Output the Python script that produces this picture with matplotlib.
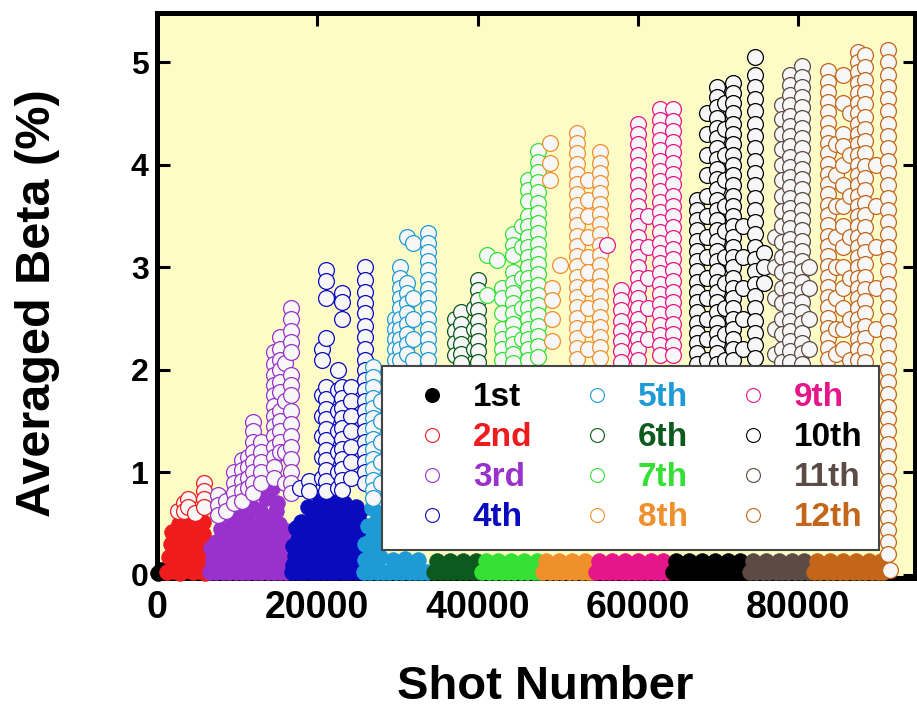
import matplotlib
matplotlib.use("Agg")
import matplotlib.pyplot as plt
from matplotlib.lines import Line2D

plt.rcParams['font.family'] = ['Liberation Sans', 'DejaVu Sans']
plt.rcParams['font.weight'] = 'bold'

labels = ["1st", "2nd", "3rd", "4th", "5th", "6th",
          "7th", "8th", "9th", "10th", "11th", "12th"]
colors = ["#000000", "#EE1C1C", "#9932CC", "#0A0ABE", "#1E9BD7", "#0C5A1E",
          "#35E035", "#F0902C", "#E6168A", "#000000", "#5C4A44", "#C4661A"]

# dense low-beta shots, (shot number, beta %)
lo1 = [(150, 0.02), (500, 0.05), (900, 0.03)]
lo2 = [(1300, 0.03), (2100, 0.04), (2900, 0.02), (3700, 0.05), (4500, 0.03), (5300, 0.04), (6000, 0.02),
       (2300, 0.12), (3100, 0.1), (3900, 0.12), (4700, 0.1), (5500, 0.12),
       (1500, 0.17), (2300, 0.28), (3100, 0.2), (3900, 0.33), (4700, 0.22), (5500, 0.3), (6100, 0.18),
       (1700, 0.3), (2500, 0.38), (3300, 0.32), (4100, 0.42), (4900, 0.36), (5700, 0.4),
       (1900, 0.42), (2700, 0.5), (3500, 0.44), (4300, 0.55), (5100, 0.46), (5800, 0.52),
       (3000, 0.58), (5000, 0.6)]
lo3 = [(6600, 0.03), (7400, 0.03), (8200, 0.03), (9000, 0.03), (9800, 0.03), (10600, 0.03), (11400, 0.03),
       (12200, 0.03), (13000, 0.03), (13800, 0.03), (14600, 0.03), (15400, 0.03), (16100, 0.03),
       (7000, 0.1), (7600, 0.11), (8200, 0.1), (8800, 0.11), (9400, 0.1), (10000, 0.11), (10600, 0.1),
       (11200, 0.11), (11800, 0.1), (12400, 0.11), (13000, 0.1), (13600, 0.11), (14200, 0.1),
       (14800, 0.11), (15400, 0.1), (16000, 0.11),
       (7000, 0.16), (7800, 0.2), (8600, 0.18), (9400, 0.2), (10200, 0.17), (11000, 0.2), (11800, 0.18),
       (12600, 0.2), (13400, 0.17), (14200, 0.2), (15000, 0.18), (15800, 0.2),
       (6800, 0.26), (7600, 0.27), (8400, 0.25), (9200, 0.28), (10000, 0.26), (10800, 0.27),
       (11600, 0.25), (12400, 0.28), (13200, 0.26), (14000, 0.27), (14800, 0.25), (15600, 0.28),
       (7400, 0.32), (8600, 0.36), (9800, 0.34), (11000, 0.37), (12200, 0.35), (13400, 0.38), (14600, 0.36),
       (15600, 0.34), (8800, 0.44), (10400, 0.45), (12000, 0.46), (13200, 0.44), (14400, 0.47), (15800, 0.44),
       (8000, 0.45), (9600, 0.5), (11200, 0.52), (12800, 0.5), (14000, 0.55), (15200, 0.5),
       (9000, 0.58), (11200, 0.58), (12800, 0.62), (14800, 0.62),
       (10400, 0.62), (12000, 0.65), (13600, 0.75), (14400, 0.85), (15000, 0.7)]
lo4 = [(16800, 0.03), (17600, 0.03), (18400, 0.03), (19200, 0.03), (20000, 0.03), (20800, 0.03),
       (21600, 0.03), (22400, 0.03), (23200, 0.03), (24000, 0.03), (24800, 0.03), (25500, 0.03),
       (17000, 0.1), (17600, 0.11), (18200, 0.1), (18800, 0.11), (19400, 0.1), (20000, 0.11),
       (20600, 0.1), (21200, 0.11), (21800, 0.1), (22400, 0.11), (23000, 0.1), (23600, 0.11),
       (24200, 0.1), (24800, 0.11), (25400, 0.1),
       (17200, 0.18), (18000, 0.22), (18800, 0.2), (19600, 0.18), (20400, 0.22), (21200, 0.2),
       (22000, 0.18), (22800, 0.22), (23600, 0.2), (24400, 0.18), (25200, 0.2),
       (17000, 0.28), (17800, 0.29), (18600, 0.27), (19400, 0.3), (20200, 0.28), (21000, 0.29),
       (21800, 0.27), (22600, 0.3), (23400, 0.28), (24200, 0.29), (25000, 0.27),
       (17600, 0.36), (18800, 0.4), (20000, 0.38), (21200, 0.4), (22400, 0.37), (23600, 0.4), (24800, 0.36),
       (17400, 0.46), (18600, 0.47), (19800, 0.45), (21000, 0.48), (22200, 0.46), (23200, 0.47),
       (24400, 0.45), (25400, 0.44),
       (18000, 0.52), (19400, 0.56), (20600, 0.55), (21800, 0.58), (23000, 0.55), (24200, 0.54), (25400, 0.5),
       (19600, 0.63), (21200, 0.64), (22800, 0.62), (24000, 0.63), (25200, 0.6),
       (18800, 0.66), (20400, 0.72), (22000, 0.74), (23400, 0.7), (24800, 0.66)]
lo5 = [(25800, 0.03), (26600, 0.03), (27400, 0.03), (28200, 0.03), (29000, 0.03), (29800, 0.03),
       (30600, 0.03), (31400, 0.03), (32200, 0.03), (33000, 0.03), (33700, 0.03),
       (26200, 0.16), (27000, 0.14), (27800, 0.17), (29400, 0.15), (31000, 0.16), (32600, 0.15),
       (26000, 0.15), (26600, 0.25), (27200, 0.4), (27600, 0.45),
       (25900, 0.3), (26800, 0.35), (27700, 0.3), (26300, 0.48), (27300, 0.52), (26800, 0.65), (27900, 0.6)]
lo6 = [(34600, 0.03), (35400, 0.03), (36200, 0.03), (37000, 0.03), (37800, 0.03), (38600, 0.03),
       (39400, 0.03), (40100, 0.03), (35000, 0.14), (36600, 0.14), (38200, 0.14), (39800, 0.14)]
lo7 = [(40600, 0.03), (41400, 0.03), (42200, 0.03), (43000, 0.03), (43800, 0.03), (44600, 0.03),
       (45400, 0.03), (46200, 0.03), (47000, 0.03), (47700, 0.03),
       (41000, 0.14), (42600, 0.14), (44200, 0.14), (45800, 0.14), (47400, 0.14)]
lo8 = [(48200, 0.03), (49000, 0.03), (49800, 0.03), (50600, 0.03), (51400, 0.03), (52200, 0.03),
       (53000, 0.03), (53800, 0.03), (54300, 0.03),
       (48600, 0.14), (50200, 0.14), (51800, 0.14), (53400, 0.14)]
lo9 = [(54800, 0.03), (55600, 0.03), (56400, 0.03), (57200, 0.03), (58000, 0.03), (58800, 0.03),
       (59600, 0.03), (60400, 0.03), (61200, 0.03), (62000, 0.03), (62800, 0.03), (63600, 0.03),
       (55200, 0.14), (56800, 0.14), (58400, 0.14), (60000, 0.14), (61600, 0.14), (63200, 0.14)]
lo10 = [(64400, 0.03), (65200, 0.03), (66000, 0.03), (66800, 0.03), (67600, 0.03), (68400, 0.03),
        (69200, 0.03), (70000, 0.03), (70800, 0.03), (71600, 0.03), (72400, 0.03), (73200, 0.03),
        (64800, 0.14), (66400, 0.14), (68000, 0.14), (69600, 0.14), (71200, 0.14), (72800, 0.14)]
lo11 = [(74000, 0.03), (74800, 0.03), (75600, 0.03), (76400, 0.03), (77200, 0.03), (78000, 0.03),
        (78800, 0.03), (79600, 0.03), (80400, 0.03), (81200, 0.03),
        (74400, 0.14), (76000, 0.14), (77600, 0.14), (79200, 0.14), (80800, 0.14)]
lo12 = [(82000, 0.03), (82800, 0.03), (83600, 0.03), (84400, 0.03), (85200, 0.03), (86000, 0.03),
        (86800, 0.03), (87600, 0.03), (88400, 0.03), (89200, 0.03), (90000, 0.03), (90600, 0.03),
        (82400, 0.14), (84000, 0.14), (85600, 0.14), (87200, 0.14), (88800, 0.14), (90400, 0.14)]

# higher-beta shots, (shot number, [beta %, ...])
hi1 = []
hi2 = [(2600, [0.62]), (3400, [0.7, 0.62]), (3900, [0.74, 0.66]), (4700, [0.6]),
       (5900, [0.9, 0.82, 0.74, 0.66])]
hi3 = [(7600, [0.78, 0.68, 0.58]),
       (8600, [0.72, 0.62]),
       (9600, [1.0, 0.9, 0.8, 0.7]),
       (10600, [1.12, 1.02, 0.92, 0.82, 0.72]),
       (11400, [1.15, 1.05, 0.95, 0.85]),
       (12000, [1.49, 1.4, 1.3, 1.2, 1.1, 1.0, 0.9, 0.8]),
       (13000, [1.3, 1.2, 1.1, 1.0, 0.9]),
       (14600, [2.17, 2.06, 1.95, 1.85, 1.75, 1.65, 1.55, 1.45, 1.35, 1.25, 1.15, 1.05, 0.95]),
       (15300, [2.32, 2.2, 2.1, 2.0, 1.88, 1.78, 1.6, 1.5, 1.4, 1.3, 1.2]),
       (16000, [2.07, 1.7, 1.2, 0.9]),
       (16700, [2.6, 2.5, 2.38, 2.27, 2.17, 1.95, 1.85, 1.75, 1.6, 1.47, 1.35, 1.25, 1.13, 1.0, 0.9, 0.8])]
hi4 = [(17800, [0.85]),
       (19000, [0.92, 0.82]),
       (20600, [2.2, 2.1, 1.75, 1.55, 1.35, 1.15, 0.95]),
       (21100, [2.97, 2.87, 2.7, 2.31, 1.83, 1.72, 1.62, 1.52, 1.42, 1.32, 1.22, 1.12, 1.02, 0.92, 0.82]),
       (22600, [2.0, 1.8, 1.6, 1.4, 1.2, 1.0, 0.85]),
       (23100, [2.75, 2.66, 2.5, 1.83, 1.73, 1.63, 1.53, 1.43, 1.33, 1.23, 1.13, 1.03, 0.93, 0.83]),
       (24200, [1.83, 1.7, 1.55, 1.4, 1.25, 1.1, 0.95]),
       (26000, [3.0, 2.88, 2.76, 2.65, 2.55, 2.43, 2.32, 2.2, 2.1, 2.0, 1.9, 1.8, 1.7, 1.6, 1.5,
                1.4, 1.3, 1.2, 1.1, 1.0, 0.9])]
hi5 = [(26900, [2.03, 1.93, 1.83, 1.73, 1.63, 1.53, 1.43, 1.33, 1.23, 1.13, 1.03, 0.93, 0.83, 0.75]),
       (27900, [1.7, 1.5, 1.3, 1.1, 0.9]),
       (29700, [2.5, 2.4, 2.3, 2.2, 2.1]),
       (30300, [3.0, 2.9, 2.8, 2.7, 2.6, 2.5, 2.4, 2.3, 2.2, 2.1]),
       (31200, [3.3, 2.85, 2.75, 2.65, 2.55, 2.45, 2.35, 2.25, 2.15]),
       (31900, [3.24, 2.7, 2.5, 2.3, 2.1]),
       (33800, [3.33, 3.24, 3.15, 3.06, 2.97, 2.88, 2.79, 2.7, 2.6, 2.5, 2.4, 2.3, 2.2, 2.1])]
hi6 = [(37200, [2.5, 2.38, 2.26, 2.14]),
       (37900, [2.56, 2.45, 2.35, 2.25, 2.15, 2.07]),
       (39600, [2.6, 2.4, 2.2]),
       (40000, [2.88, 2.78, 2.68, 2.58, 2.48, 2.38, 2.28, 2.18, 2.08])]
hi7 = [(41200, [3.12, 2.73]),
       (42400, [3.07]),
       (43000, [2.8, 2.7, 2.55, 2.4, 2.3, 2.2, 2.1]),
       (44400, [3.32, 3.22, 3.12, 2.95, 2.85, 2.75, 2.65, 2.55, 2.45, 2.35, 2.25, 2.15, 2.07]),
       (45600, [3.4, 3.2, 2.9, 2.6, 2.3]),
       (46300, [3.85, 3.75, 3.65, 3.5, 3.4, 3.3, 3.2, 3.1, 3.0, 2.9, 2.8, 2.7, 2.6, 2.5, 2.4,
                2.3, 2.2, 2.1]),
       (47500, [4.13, 4.03, 3.93, 3.83, 3.73, 3.63, 3.53, 3.43, 3.33, 3.23, 3.13, 3.03, 2.93,
                2.83, 2.73, 2.63, 2.53, 2.43, 2.33, 2.23, 2.13])]
hi8 = [(49000, [4.21, 4.02, 3.85]),
       (49300, [2.8, 2.68, 2.5, 2.28]),
       (50300, [3.02]),
       (52400, [4.31, 4.21, 4.11, 4.01, 3.91, 3.81, 3.71, 3.61, 3.51, 3.41, 3.31, 3.21, 3.11,
                3.01, 2.91, 2.81, 2.71, 2.61, 2.51, 2.41, 2.31, 2.21, 2.11]),
       (53800, [3.85, 3.66, 3.5, 3.3, 3.1, 2.95, 2.8, 2.6, 2.4, 2.2]),
       (55300, [4.12, 4.02, 3.92, 3.82, 3.72, 3.62, 3.52, 3.42, 3.32, 3.22, 3.12, 3.02, 2.92,
                2.82, 2.72, 2.62, 2.52, 2.42, 2.32, 2.22, 2.12])]
hi9 = [(56100, [3.22]),
       (57900, [2.78, 2.68, 2.58, 2.48, 2.38, 2.28, 2.18, 2.08]),
       (60000, [4.4, 4.3, 4.2, 4.1, 4.0, 3.9, 3.8, 3.7, 3.6, 3.5, 3.4, 3.3, 3.2, 3.1, 3.0,
                2.9, 2.8, 2.7, 2.6, 2.5, 2.4, 2.3, 2.2, 2.1]),
       (61300, [3.5, 3.2, 2.9, 2.6, 2.3]),
       (62800, [4.54, 4.44, 4.34, 4.24, 4.14, 4.04, 3.94, 3.84, 3.74, 3.64, 3.54, 3.44, 3.34,
                3.24, 3.14, 3.04, 2.94, 2.84, 2.74, 2.64, 2.54, 2.44, 2.34, 2.24, 2.14]),
       (64400, [4.54, 4.43, 4.33, 4.22, 4.12, 4.02, 3.91, 3.81, 3.7, 3.6, 3.5, 3.39, 3.29,
                3.18, 3.08, 2.97, 2.87, 2.76, 2.66, 2.56, 2.45, 2.35, 2.24, 2.14])]
hi10 = [(67400, [3.66, 3.56, 3.46, 3.36, 3.26, 3.16, 3.06, 2.96, 2.86, 2.76, 2.66, 2.56, 2.46,
                 2.36, 2.26, 2.16, 2.06]),
        (68600, [4.5, 4.3, 4.1, 3.9, 3.7, 3.5, 3.3, 3.1, 2.9, 2.7, 2.5, 2.3, 2.1]),
        (69900, [4.76, 4.66, 4.56, 4.46, 4.36, 4.26, 4.16, 4.06, 3.96, 3.86, 3.76, 3.66, 3.56,
                 3.46, 3.36, 3.26, 3.16, 3.06, 2.96, 2.86, 2.76, 2.66, 2.56, 2.46, 2.36, 2.26,
                 2.16, 2.06]),
        (70900, [4.6, 4.35, 4.1, 3.85, 3.6, 3.35, 3.1, 2.85, 2.6, 2.35, 2.1]),
        (71900, [4.8, 4.7, 4.6, 4.5, 4.4, 4.3, 4.2, 4.1, 4.0, 3.9, 3.8, 3.7, 3.6, 3.5, 3.4,
                 3.3, 3.2, 3.1, 3.0, 2.9, 2.8, 2.7, 2.6, 2.5, 2.4, 2.3, 2.2, 2.1]),
        (73100, [3.4, 3.1, 2.8, 2.5, 2.2]),
        (74600, [5.05, 4.88, 4.76, 4.64, 4.52, 4.4, 4.28, 4.16, 4.04, 3.92, 3.8, 3.68, 3.56,
                 3.44, 3.32, 3.2, 3.08, 2.96, 2.84, 2.72, 2.6, 2.48, 2.36, 2.24, 2.12]),
        (75800, [3.14, 3.0, 2.85])]
hi11 = [(77100, [3.3, 3.0, 2.7, 2.4, 2.15]),
        (78000, [4.58, 4.45, 4.3, 4.15, 4.0, 3.85, 3.7, 3.55, 3.4, 3.25, 3.1, 2.95, 2.8, 2.65,
                 2.5, 2.35, 2.2, 2.08]),
        (79000, [4.88, 4.78, 4.68, 4.58, 4.48, 4.38, 4.28, 4.18, 4.08, 3.98, 3.88, 3.78, 3.68,
                 3.58, 3.48, 3.38, 3.28, 3.18, 3.08, 2.98, 2.88, 2.78, 2.68, 2.58, 2.48, 2.38,
                 2.28, 2.18, 2.08]),
        (80500, [4.96, 4.86, 4.76, 4.66, 4.56, 4.46, 4.36, 4.26, 4.16, 4.06, 3.96, 3.86, 3.76,
                 3.66, 3.56, 3.46, 3.36, 3.26, 3.16, 3.06, 2.96, 2.86, 2.76, 2.66, 2.56, 2.46,
                 2.36, 2.26, 2.16, 2.06]),
        (81400, [3.0, 2.8, 2.5, 2.2])]
hi12 = [(83700, [4.91, 4.81, 4.71, 4.61, 4.51, 4.41, 4.31, 4.21, 4.11, 4.01, 3.91, 3.81, 3.71,
                 3.61, 3.51, 3.41, 3.31, 3.21, 3.11, 3.01, 2.91, 2.81, 2.71, 2.61, 2.51, 2.41,
                 2.31, 2.21, 2.11]),
        (84700, [4.2, 3.9, 3.6, 3.3, 3.0, 2.7, 2.4, 2.15]),
        (85600, [4.88, 4.6, 4.3, 4.18, 4.0, 3.8, 3.6, 3.4, 3.2, 3.0, 2.8, 2.6, 2.4, 2.2]),
        (86500, [4.5, 4.1, 3.7, 3.3, 2.9, 2.5, 2.1]),
        (87500, [5.1, 5.0, 4.9, 4.8, 4.7, 4.6, 4.5, 4.4, 4.3, 4.2, 4.1, 4.0, 3.9, 3.8, 3.7,
                 3.6, 3.5, 3.4, 3.3, 3.2, 3.1, 3.0, 2.9, 2.8, 2.7, 2.6, 2.5, 2.4, 2.3, 2.2, 2.1]),
        (88400, [5.07, 4.95, 4.83, 4.71, 4.59, 4.47, 4.35, 4.23, 4.11, 3.99, 3.87, 3.75, 3.63,
                 3.51, 3.39, 3.27, 3.15, 3.03, 2.91, 2.79, 2.67, 2.55, 2.43, 2.31, 2.19, 2.08]),
        (89700, [4.0, 3.6, 3.2, 2.8, 2.4]),
        (91200, [5.12, 5.0, 4.88, 4.76, 4.64, 4.52, 4.4, 4.28, 4.16, 4.04, 3.92, 3.8, 3.68,
                 3.56, 3.44, 3.32, 3.2, 3.08, 2.96, 2.84, 2.72, 2.6, 2.48, 2.36, 2.24, 2.12,
                 2.0, 1.88, 1.76, 1.64, 1.52, 1.4, 1.28, 1.16, 1.04, 0.92, 0.8, 0.68, 0.56,
                 0.44, 0.32, 0.2]),
        (91500, [0.05])]

lows = [lo1, lo2, lo3, lo4, lo5, lo6, lo7, lo8, lo9, lo10, lo11, lo12]
highs = [hi1, hi2, hi3, hi4, hi5, hi6, hi7, hi8, hi9, hi10, hi11, hi12]

fig = plt.figure(figsize=(9.17, 7.08), dpi=100)
ax = fig.add_axes([157 / 917, 130 / 708, 758 / 917, 565 / 708])
ax.set_facecolor('#FDFBC6')

for k in range(12):
    col = colors[k]
    lx = [p[0] for p in lows[k]]
    ly = [p[1] for p in lows[k]]
    ax.scatter(lx, ly, s=130, c=col, edgecolors=col, linewidths=0.4,
               zorder=3, clip_on=False)
    hx, hy = [], []
    for x, ys in highs[k]:
        hx += [x] * len(ys)
        hy += ys
    if hx:
        ax.scatter(hx, hy, s=130, facecolors='#F7F7F7', edgecolors=col,
                   linewidths=0.9, zorder=3)

ax.set_xlim(0, 94600)
ax.set_ylim(-0.03, 5.48)
ax.set_xticks([0, 20000, 40000, 60000, 80000])
ax.set_yticks([0, 1, 2, 3, 4, 5])
ax.tick_params(direction='in', length=9, width=2.2, top=True, right=True)
ax.tick_params(axis='x', labelsize=27, pad=9)
ax.tick_params(axis='y', labelsize=23, pad=6)
for sp in ax.spines.values():
    sp.set_linewidth(3.6)

fig.text(545 / 917, 9 / 708, 'Shot Number', fontsize=34, fontweight='bold',
         ha='center', va='baseline')
fig.text(38 / 917, 1 - 303 / 708, 'Averaged Beta (%)', fontsize=35, fontweight='bold',
         rotation=90, ha='center', va='center')

handles = []
for k in range(12):
    handles.append(Line2D([], [], marker='o', ls='none', ms=10,
                          mfc=('black' if k == 0 else 'white'),
                          mec=colors[k], mew=0.8))
leg = ax.legend(handles, labels, ncol=3, loc='lower left',
                bbox_to_anchor=(0.297, 0.0496), borderaxespad=0,
                prop={'size': 24, 'weight': 'bold'}, handlelength=2.0,
                handletextpad=0.22, columnspacing=0.95, labelspacing=0.27,
                borderpad=0.5, fancybox=False, framealpha=1, edgecolor='#444444')
leg.get_frame().set_linewidth(1.5)
leg.set_zorder(10)
for t, c in zip(leg.get_texts(), colors):
    t.set_color(c)

fig.savefig('out.png', dpi=100)
